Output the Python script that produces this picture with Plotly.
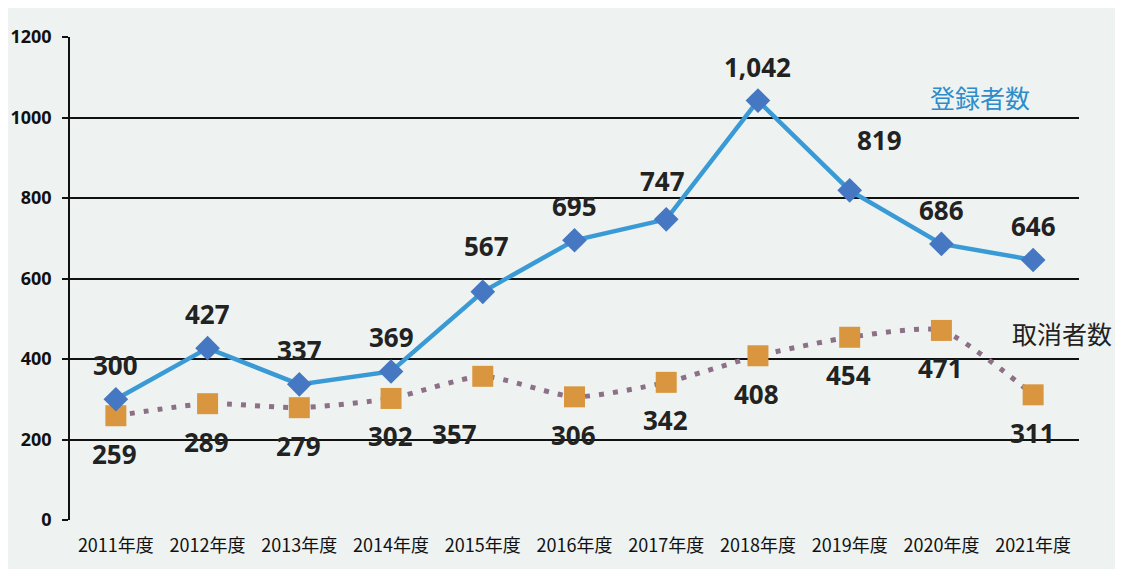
import plotly.graph_objects as go

years = ["2011年度", "2012年度", "2013年度", "2014年度", "2015年度", "2016年度",
         "2017年度", "2018年度", "2019年度", "2020年度", "2021年度"]
registered = [300, 427, 337, 369, 567, 695, 747, 1042, 819, 686, 646]
cancelled = [259, 289, 279, 302, 357, 306, 342, 408, 454, 471, 311]
y_ticks = [0, 200, 400, 600, 800, 1000, 1200]

BG = "#eef3f1"
LBL_FONT = dict(family="Open Sans, Noto Sans, sans-serif", size=26, color="#222222", weight="bold")

fig = go.Figure()

fig.add_trace(go.Scatter(
    x=years, y=cancelled, mode="lines+markers", name="取消者数",
    line=dict(color="#8c7088", width=5, dash="5px,9px", shape="spline", smoothing=0.6),
    marker=dict(symbol="square", size=21, color="#d9963e"),
))
fig.add_trace(go.Scatter(
    x=years, y=registered, mode="lines+markers", name="登録者数",
    line=dict(color="#3a9ad6", width=4.5),
    marker=dict(symbol="diamond", size=19, color="#4677c2"),
))

# data labels for 登録者数 (above)
reg_shift = {4: (4, -46), 6: (-4, -38), 8: (30, -50)}
for i, (yr, v) in enumerate(zip(years, registered)):
    dx, dy = reg_shift.get(i, (0, -34))
    fig.add_annotation(x=yr, y=v, text=f"{v:,}", showarrow=False,
                       xanchor="center", yanchor="middle",
                       xshift=dx, yshift=-dy, font=LBL_FONT)

# data labels for 取消者数 (below)
can_shift = {4: (-28, 58)}
for i, (yr, v) in enumerate(zip(years, cancelled)):
    dx, dy = can_shift.get(i, (-1, 38))
    fig.add_annotation(x=yr, y=v, text=f"{v:,}", showarrow=False,
                       xanchor="center", yanchor="middle",
                       xshift=dx, yshift=-dy, font=LBL_FONT)

# series names
fig.add_annotation(x=0.902, y=0.876, xref="paper", yref="paper", text="登録者数",
                   xanchor="center", yanchor="middle", showarrow=False,
                   font=dict(family="Noto Sans CJK JP", size=25, color="#2f8ccb"))
fig.add_annotation(x=0.983, y=0.387, xref="paper", yref="paper", text="取消者数",
                   xanchor="center", yanchor="middle", showarrow=False,
                   font=dict(family="Noto Sans CJK JP", size=25, color="#222222"))

fig.update_layout(
    width=1123, height=569,
    margin=dict(l=62, r=52, t=29, b=57),
    paper_bgcolor=BG, plot_bgcolor=BG,
    showlegend=False,
    xaxis=dict(
        type="category", range=[-0.5, 10.5], showgrid=False, showline=False, zeroline=False,
        automargin=False,
        ticks="outside", ticklen=9, tickcolor="rgba(0,0,0,0)",
        tickfont=dict(family="Noto Sans CJK JP", size=18, color="#111111"),
    ),
    yaxis=dict(
        range=[0, 1200], tickvals=y_ticks, showgrid=True, gridcolor="#111111", gridwidth=1.5,
        showline=True, linecolor="#111111", linewidth=1.5, zeroline=False,
        automargin=False,
        ticks="outside", ticklen=6, tickcolor="#111111", tickwidth=1.5,
        ticklabelstandoff=7,
        tickfont=dict(family="Open Sans, sans-serif", size=18, color="#111111", weight="bold"),
    ),
)

fig.write_html("out.html")
